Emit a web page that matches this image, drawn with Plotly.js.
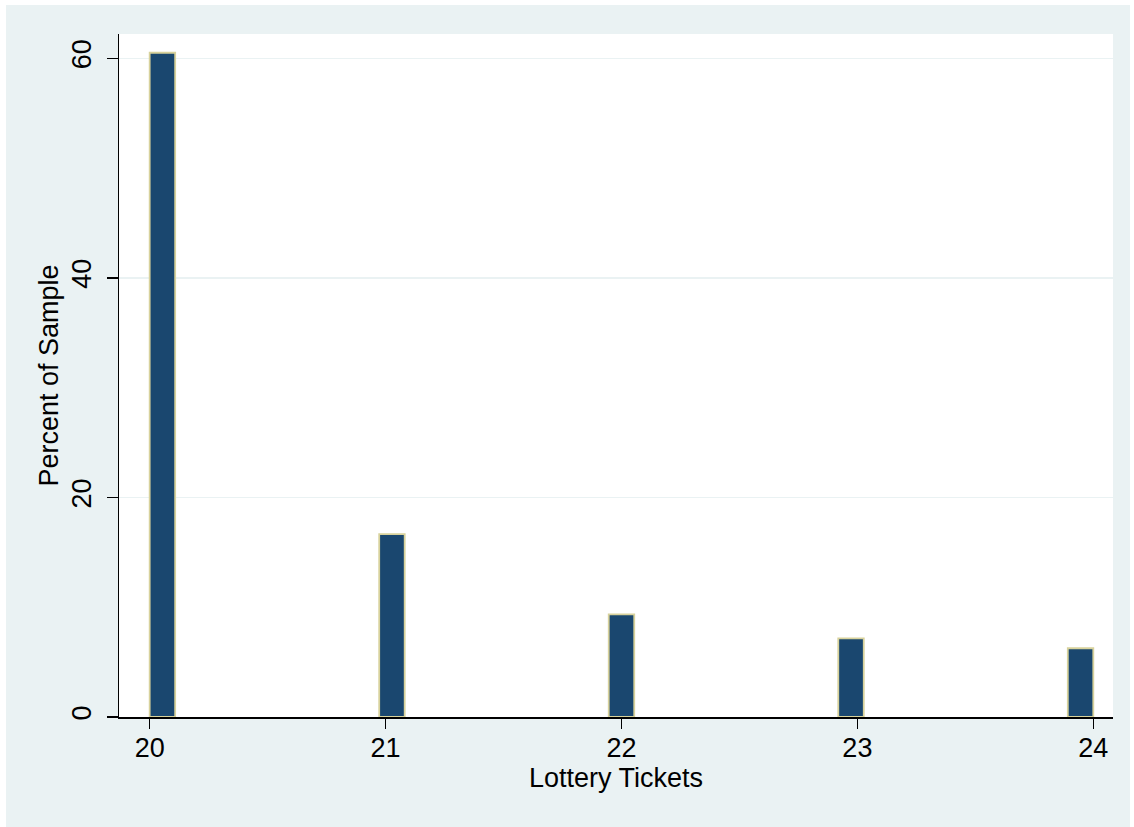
<!DOCTYPE html>
<html>
<head>
<meta charset="utf-8">
<script src="https://cdn.plot.ly/plotly-3.0.1.min.js"></script>
<style>
html, body { margin: 0; padding: 0; background: #ffffff; width: 1134px; height: 827px; overflow: hidden; }
#chart { position: absolute; left: 6px; top: 5px; width: 1124px; height: 822px; }
</style>
</head>
<body>
<div id="chart"></div>
<script>
// Data (Stata-style histogram, 37 bins over 20..24)
const tickets = [20, 21, 22, 23, 24];
const percentOfSample = [60.5, 16.66, 9.35, 7.17, 6.26];
const xTickLabels = ["20", "21", "22", "23", "24"];
const yTickValues = [0, 20, 40, 60];

// Histogram binning rule
const binStart = 20, binEnd = 24, nBins = 37;
const binWidth = (binEnd - binStart) / nBins;
const binLeft = tickets.map(v => {
  const k = Math.min(Math.floor((v - binStart) / binWidth + 1e-9), nBins - 1);
  return binStart + k * binWidth;
});

const fontFam = "Liberation Sans, Arial, sans-serif";

const trace = {
  type: "bar",
  x: binLeft,
  y: percentOfSample,
  width: binWidth,
  offset: 0,
  marker: { color: "#1a476f", line: { color: "#d8d29c", width: 1.8 } },
  hoverinfo: "x+y"
};

const layout = {
  width: 1124,
  height: 822,
  paper_bgcolor: "#eaf2f3",
  plot_bgcolor: "#ffffff",
  margin: { l: 113, r: 17, t: 29, b: 110 },
  showlegend: false,
  font: { family: fontFam, size: 27, color: "#000000" },
  xaxis: {
    range: [19.870, 24.0835],
    tickvals: tickets,
    ticktext: xTickLabels,
    ticks: "outside",
    ticklen: 10,
    tickwidth: 1.5,
    tickcolor: "#000000",
    ticklabelstandoff: -4,
    showline: true,
    linecolor: "#000000",
    linewidth: 1.5,
    showgrid: false,
    zeroline: false,
    tickfont: { family: fontFam, size: 27, color: "#000000" },
    title: { text: "Lottery Tickets", font: { family: fontFam, size: 27, color: "#000000" }, standoff: 3 }
  },
  yaxis: {
    range: [0, 62.21],
    tickvals: yTickValues,
    ticktext: yTickValues.map(String),
    tickangle: -90,
    ticks: "outside",
    ticklen: 11,
    tickwidth: 1.5,
    tickcolor: "#000000",
    ticklabelstandoff: 5,
    showline: true,
    linecolor: "#000000",
    linewidth: 1.5,
    showgrid: true,
    gridcolor: "#eaf2f3",
    gridwidth: 1.5,
    zeroline: false,
    tickfont: { family: fontFam, size: 27, color: "#000000" },
    title: { text: "Percent of Sample", font: { family: fontFam, size: 27, color: "#000000" }, standoff: 0 }
  }
};

Plotly.newPlot("chart", [trace], layout, { displayModeBar: false, staticPlot: true });
</script>
</body>
</html>
